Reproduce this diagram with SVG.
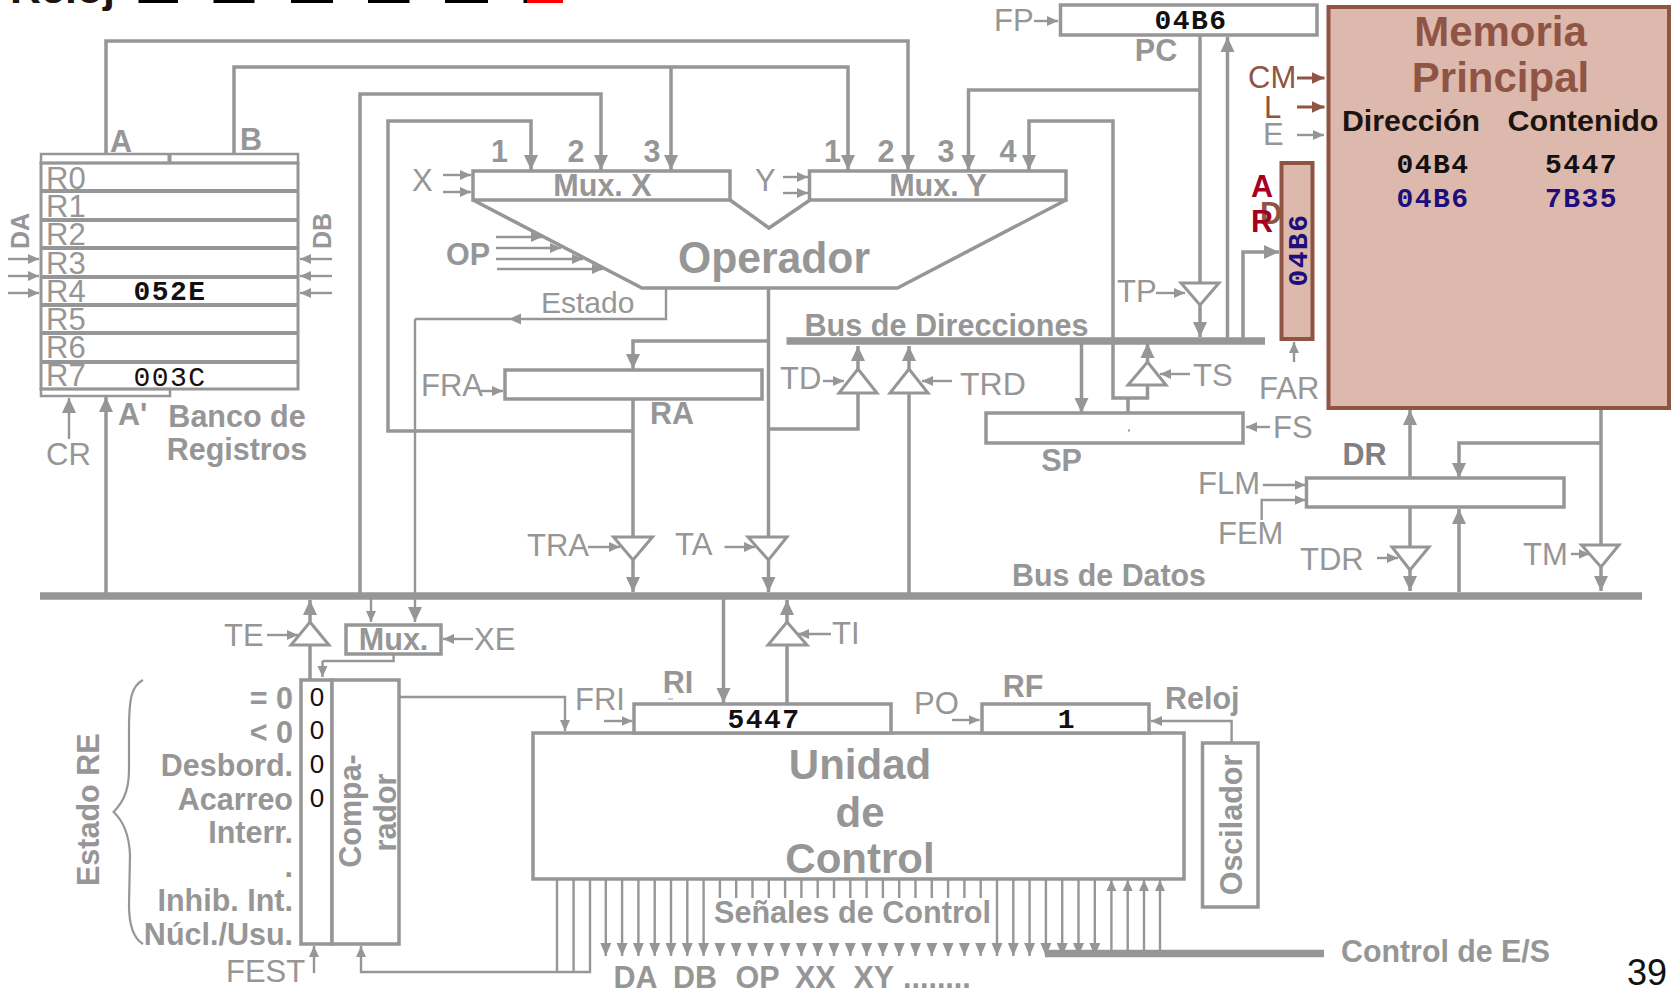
<svg xmlns="http://www.w3.org/2000/svg" width="1674" height="991" viewBox="0 0 1674 991">
<style>
text{font-family:"Liberation Sans",Arial,sans-serif;fill:#969696}
.l{font-size:31px}
.b{font-size:30.500px;font-weight:700}
.m{font-family:"Liberation Mono","Courier New",monospace;font-size:28px;font-weight:700;fill:#141010;letter-spacing:1.500px;text-anchor:middle}
.c{text-anchor:middle}
.e{text-anchor:end}
.brown{fill:#8f5444}
.dark{fill:#1c1410}
.box{fill:#fff;stroke:#969696;stroke-width:3.500}
.mem{fill:#dcb9ac;stroke:#8f5444;stroke-width:4}
.w{fill:none;stroke:#969696;stroke-width:3.500}
.t{fill:none;stroke:#969696;stroke-width:2.400}
.bus{fill:none;stroke:#969696;stroke-width:7.500}
.tri{fill:#fff;stroke:#969696;stroke-width:3}
.A{marker-end:url(#big)}
.S{marker-end:url(#sm)}
.D{marker-end:url(#ctl)}
.Br{fill:none;stroke:#8f5444;stroke-width:3;marker-end:url(#brn)}
</style>
<defs>
<marker id="big" markerUnits="userSpaceOnUse" markerWidth="16" markerHeight="16" refX="15" refY="8" orient="auto"><path d="M0 1 L15 8 L0 15 Z" fill="#969696"/></marker>
<marker id="sm" markerUnits="userSpaceOnUse" markerWidth="12" markerHeight="12" refX="11" refY="6" orient="auto"><path d="M0 1 L11 6 L0 11 Z" fill="#969696"/></marker>
<marker id="ctl" markerUnits="userSpaceOnUse" markerWidth="14" markerHeight="12" refX="13" refY="6" orient="auto"><path d="M0 .5 L13 6 L0 11.500 Z" fill="#969696"/></marker>
<marker id="brn" markerUnits="userSpaceOnUse" markerWidth="14" markerHeight="14" refX="13" refY="7" orient="auto"><path d="M0 1 L13 7 L0 13 Z" fill="#8f5444"/></marker>
</defs>

<g id="reloj-top">
<text x="10" y="3" class="dark" textLength="105" lengthAdjust="spacingAndGlyphs" style="font-size:40px;font-weight:700">Reloj</text>
<rect x="138.500" y="0" width="39.500" height="3" fill="#000"/>
<rect x="213.500" y="0" width="41" height="3" fill="#000"/>
<rect x="291" y="0" width="42" height="3" fill="#000"/>
<rect x="368" y="0" width="41.500" height="3" fill="#000"/>
<rect x="445" y="0" width="43" height="3" fill="#000"/>
<rect x="523.500" y="0" width="3.500" height="3" fill="#000"/>
<rect x="527" y="0" width="36" height="3" fill="#f00"/>
</g>

<g id="connectors">
<path class="bus" d="M40 596H1642"/>
<path class="bus" d="M786.500 341H1265"/>
<path class="bus" d="M1045 953.500H1324"/>
<path class="w A" d="M106 154V41H908V170"/>
<path class="w A" d="M234 154V67H848V170"/>
<path class="w A" d="M671 67V170"/>
<path class="w A" d="M360 596V94H601V170"/>
<path class="w A" d="M633 431H388V121H531V170"/>
<path class="w A" d="M106 596V397"/>
<path class="t A" d="M69 439V398"/>
<path class="w" d="M768.500 288V537"/>
<path class="w A" d="M768.500 341H633V369"/>
<path class="w" d="M633 399V537"/>
<path class="w A" d="M633 560V592"/>
<path class="w A" d="M768.500 560V592"/>
<path class="t" d="M666 288V319H415"/>
<path class="t A" d="M415 319V622"/>
<path d="M509 319l12-5.500v11z" fill="#969696"/>
<path class="w" d="M768.500 429H858V393"/>
<path class="w A" d="M858 369V346"/>
<path class="w" d="M909 596V393"/>
<path class="w A" d="M909 369V346"/>
<path class="w" d="M1200 35V283"/>
<path class="w A" d="M1200 90H968.500V170"/>
<path class="w A" d="M1227.500 338V37"/>
<path class="w A" d="M1200 305V337"/>
<path class="w A" d="M1113 338V121H1029V170"/>
<path class="w" d="M1113 341V398H1147.500V385"/>
<path class="w" d="M1128 398V413"/>
<path class="w A" d="M1147.500 362V343"/>
<path class="w A" d="M1081.500 341V413"/>
<path class="w A" d="M1243 338V252H1279"/>
<path class="t S" d="M1294 362V342"/>
<path class="w A" d="M1410 478V410"/>
<path class="w" d="M1601 408V545"/>
<path class="w A" d="M1601 443H1459V478"/>
<path class="w A" d="M1601 567V591"/>
<path class="w" d="M1410 507V547"/>
<path class="w A" d="M1410 570V591"/>
<path class="w A" d="M1459 592V509"/>
<path class="w" d="M310 679V645"/>
<path class="w A" d="M310 622V600"/>
<path class="t S" d="M371 599V622"/>
<path class="t" d="M393.600 654V661H322.500"/>
<path class="t S" d="M322.500 661V677"/>
<path class="t S" d="M399 697H565V731"/>
<path class="t S" d="M590 879V972H361V946"/>
<path class="t" d="M557 879V972M573.600 879V972"/>
<path class="w A" d="M723.500 596V703"/>
<path class="w" d="M787 704V645"/>
<path class="w A" d="M787 622V600"/>
<path class="t S" d="M1231.600 743V721H1151"/>
<path class="t S" d="M8 259H39"/><path class="t S" d="M8 276H39"/><path class="t S" d="M8 293H39"/>
<path class="t S" d="M332 259H300"/><path class="t S" d="M332 276H300"/><path class="t S" d="M332 293H300"/>
<path class="t S" d="M443 175H471"/><path class="t S" d="M443 192H471"/>
<path class="t S" d="M783 177H808"/><path class="t S" d="M783 193H808"/>
<path class="t S" d="M496 237H542"/><path class="t S" d="M496 248H561"/><path class="t S" d="M496 259H583"/><path class="t S" d="M497 269H603"/>
<path class="t S" d="M1034 21H1058"/>
<path class="t S" d="M1156 293H1185"/>
<path class="t S" d="M1190 374H1160"/>
<path class="t S" d="M823 381H844"/>
<path class="t S" d="M952 381H922"/>
<path class="t S" d="M481 391H503"/>
<path class="t S" d="M1270 427H1246"/>
<path class="t S" d="M1262.800 485H1305.500"/>
<path class="t S" d="M1261.700 520V500H1305.500"/>
<path class="t S" d="M1377 558H1398"/>
<path class="t S" d="M1571 554H1589.500"/>
<path class="t S" d="M588 547H620"/>
<path class="t S" d="M724.500 547H755"/>
<path class="t S" d="M267 635H298"/>
<path class="t S" d="M473 639H443"/>
<path class="t S" d="M831 634H798"/>
<path class="t S" d="M604 721H632.500"/>
<path class="t S" d="M952 720H979.500"/>
<path class="t S" d="M314 973V946"/>
<path class="Br" d="M1297 78H1324.500"/>
<path class="Br" d="M1297 107H1324.500"/>
<path class="t S" d="M1297 135H1324"/>
<g id="control-signals">
<path class="t D" d="M605.800 879V956"/><path class="t D" d="M622.100 879V956"/><path class="t D" d="M638.400 879V956"/><path class="t D" d="M654.700 879V956"/><path class="t D" d="M671 879V956"/><path class="t D" d="M687.300 879V956"/><path class="t D" d="M703.600 879V956"/>
<path class="t" d="M719.900 879V898M736.200 879V898M752.500 879V898M768.800 879V898M785.100 879V898M801.400 879V898M817.700 879V898M834 879V898M850.300 879V898M866.600 879V898M882.900 879V898M899.200 879V898M915.500 879V898M931.800 879V898M948.100 879V898M964.400 879V898M980.700 879V898"/>
<path class="t D" d="M719.900 945V956"/><path class="t D" d="M736.200 945V956"/><path class="t D" d="M752.500 945V956"/><path class="t D" d="M768.800 945V956"/><path class="t D" d="M785.100 945V956"/><path class="t D" d="M801.400 945V956"/><path class="t D" d="M817.700 945V956"/><path class="t D" d="M834 945V956"/><path class="t D" d="M850.300 945V956"/><path class="t D" d="M866.600 945V956"/><path class="t D" d="M882.900 945V956"/><path class="t D" d="M899.200 945V956"/><path class="t D" d="M915.500 945V956"/><path class="t D" d="M931.800 945V956"/><path class="t D" d="M948.100 945V956"/><path class="t D" d="M964.400 945V956"/><path class="t D" d="M980.700 945V956"/>
<path class="t D" d="M997 879V956"/><path class="t D" d="M1013.300 879V956"/><path class="t D" d="M1029.600 879V956"/><path class="t D" d="M1045.900 879V956"/><path class="t D" d="M1062.200 879V956"/><path class="t D" d="M1078.500 879V956"/><path class="t D" d="M1094.800 879V956"/>
<path class="t S" d="M1111.400 952V880"/><path class="t S" d="M1127.700 952V880"/><path class="t S" d="M1144 952V880"/><path class="t S" d="M1160 952V880"/>
</g>
<path d="M143 680C131 686 129 700 129 730L129 770C129 795 120 805 113.600 812C120 818 129 830 130 855L129 905C129 925 133 938 143 944" fill="none" stroke="#969696" stroke-width="2.200"/>
</g>

<g id="banco-registros">
<rect x="41" y="154" width="257" height="9" fill="#fff" stroke="#969696" stroke-width="2.500"/>
<path d="M169.500 154V163" stroke="#969696" stroke-width="4"/>
<rect x="41" y="389" width="129" height="7" fill="#fff" stroke="#969696" stroke-width="2.500"/>
<rect x="41" y="163" width="257" height="226" fill="none" stroke="#969696" stroke-width="3"/>
<path d="M41 191H298M41 220H298M41 248H298M41 277H298M41 305H298M41 333H298M41 362H298" stroke="#969696" stroke-width="4"/>
<text x="46" y="189" style="font-size:31px">R0</text>
<text x="46" y="217" style="font-size:31px">R1</text>
<text x="46" y="245" style="font-size:31px">R2</text>
<text x="46" y="274" style="font-size:31px">R3</text>
<text x="46" y="302" style="font-size:31px">R4</text>
<text x="46" y="330" style="font-size:31px">R5</text>
<text x="46" y="358" style="font-size:31px">R6</text>
<text x="46" y="386" style="font-size:31px">R7</text>
<text class="m" x="170" y="300">052E</text>
<text class="m" x="170" y="386" style="font-weight:400">003C</text>
<text class="b" x="110" y="152">A</text>
<text class="b" x="240" y="150">B</text>
<text class="b" transform="translate(28.700 249) rotate(-90)" style="font-size:25px">DA</text>
<text class="b" transform="translate(331 249) rotate(-90)" style="font-size:25px">DB</text>
<text class="l" x="46" y="465">CR</text>
<text class="b" x="118" y="425">A'</text>
<text class="b c" x="237" y="427">Banco de</text>
<text class="b c" x="237" y="460">Registros</text>
</g>

<g id="mux-x">
<rect class="box" x="473" y="171" width="257" height="29"/>
<text class="b c" x="602.500" y="196">Mux. X</text>
<text class="b c" x="499.500" y="162">1</text>
<text class="b c" x="576" y="162">2</text>
<text class="b c" x="652" y="162">3</text>
<text class="l" x="412" y="191">X</text>
</g>
<g id="mux-y">
<rect class="box" x="809.500" y="171" width="256.500" height="29"/>
<text class="b c" x="938" y="196">Mux. Y</text>
<text class="b c" x="832.500" y="162">1</text>
<text class="b c" x="886" y="162">2</text>
<text class="b c" x="946" y="162">3</text>
<text class="b c" x="1008" y="162">4</text>
<text class="l" x="755" y="191">Y</text>
</g>
<g id="operador">
<path d="M473 200L642 288H897.500L1066 200M730 200L769 228L810 200" fill="none" stroke="#969696" stroke-width="3.500"/>
<text x="678" y="273" textLength="192" lengthAdjust="spacingAndGlyphs" style="font-size:45px;font-weight:700">Operador</text>
<text class="b" x="446" y="265">OP</text>
<text x="541" y="313" style="font-size:30px">Estado</text>
</g>
<g id="ra">
<rect class="box" x="505" y="370" width="257" height="29"/>
<text class="b" x="650" y="424">RA</text>
<text class="l" x="421" y="396">FRA</text>
</g>
<g id="buffers">
<path class="tri" d="M613.500 537H652.500L633 560Z"/>
<path class="tri" d="M748 537H787L768.500 560Z"/>
<path class="tri" d="M858 369L877 393H839Z"/>
<path class="tri" d="M909 369L928 393H890Z"/>
<path class="tri" d="M1181 283H1219L1200 305Z"/>
<path class="tri" d="M1147.500 362L1166 385H1128Z"/>
<path class="tri" d="M1392 547H1429L1410 570Z"/>
<path class="tri" d="M1581.500 545H1619L1601 567Z"/>
<path class="tri" d="M310 622L329 645H291Z"/>
<path class="tri" d="M787 622L807 645H768Z"/>
<text class="l" x="527" y="556">TRA</text>
<text class="l" x="675" y="555">TA</text>
<text class="l" x="780" y="389">TD</text>
<text class="l" x="960" y="395" style="font-size:32px">TRD</text>
<text class="l" x="1117" y="302">TP</text>
<text class="l" x="1193" y="386">TS</text>
<text class="l" x="1300" y="570">TDR</text>
<text class="l" x="1523" y="565">TM</text>
<text class="l" x="224" y="646">TE</text>
<text class="l" x="832" y="644">TI</text>
</g>
<g id="buses-labels">
<text class="b" x="804.500" y="336" textLength="284" lengthAdjust="spacingAndGlyphs">Bus de Direcciones</text>
<text class="b" x="1012" y="586" textLength="194" lengthAdjust="spacingAndGlyphs">Bus de Datos</text>
</g>
<g id="pc">
<rect class="box" x="1060.500" y="5" width="256.500" height="30"/>
<text class="m" x="1191" y="29">04B6</text>
<text class="l" x="994" y="31">FP</text>
<text class="b c" x="1156" y="61">PC</text>
</g>
<g id="sp">
<rect class="box" x="986" y="413" width="257" height="30"/>
<rect x="1128" y="429.500" width="2" height="2" fill="#969696"/>
<text class="l" x="1273" y="438">FS</text>
<text class="b c" x="1061.500" y="471">SP</text>
</g>
<g id="memoria">
<rect class="mem" x="1328.500" y="7" width="340.500" height="401"/>
<text class="brown c" x="1500.500" y="46" style="font-size:42px;font-weight:700">Memoria</text>
<text class="brown c" x="1500.500" y="92" style="font-size:42px;font-weight:700">Principal</text>
<text class="dark" x="1342" y="131" textLength="138" lengthAdjust="spacingAndGlyphs" style="font-size:30px;font-weight:700">Dirección</text>
<text class="dark" x="1507.500" y="131" textLength="151" lengthAdjust="spacingAndGlyphs" style="font-size:30px;font-weight:700">Contenido</text>
<text class="m" x="1433" y="173">04B4</text>
<text class="m" x="1581.500" y="173">5447</text>
<text class="m" x="1433" y="207" style="fill:#1d0e7a">04B6</text>
<text class="m" x="1581.500" y="207" style="fill:#1d0e7a">7B35</text>
<text class="brown" x="1248" y="88" style="font-size:31px">CM</text>
<text class="brown" x="1264" y="118" style="font-size:31px">L</text>
<text class="l" x="1263" y="145">E</text>
</g>
<g id="ar">
<rect class="mem" x="1281.500" y="163" width="31" height="176"/>
<text class="m" transform="translate(1306.500 250) rotate(-90)" style="fill:#1d0e7a">04B6</text>
<text class="b" x="1251" y="197" style="fill:#a50021">A</text>
<text class="b" x="1260" y="224" style="fill:#8f5444">D</text>
<text class="b" x="1251" y="232" style="fill:#a50021">R</text>
<text class="l" x="1259" y="399">FAR</text>
</g>
<g id="dr">
<rect class="box" x="1306.500" y="478" width="257.500" height="29"/>
<text class="b c" x="1364.500" y="465" style="fill:#808080">DR</text>
<text class="l" x="1198" y="494">FLM</text>
<text class="l" x="1218" y="544">FEM</text>
</g>
<g id="mux-e">
<rect class="box" x="346" y="625" width="95" height="29"/>
<text class="b c" x="393.600" y="650">Mux.</text>
<text class="l" x="474" y="650">XE</text>
</g>
<g id="estado-re">
<rect class="box" x="301" y="680" width="31" height="264"/>
<text x="317" y="706" class="c" style="font-size:26px;fill:#141010">0</text>
<text x="317" y="739" class="c" style="font-size:26px;fill:#141010">0</text>
<text x="317" y="773" class="c" style="font-size:26px;fill:#141010">0</text>
<text x="317" y="807" class="c" style="font-size:26px;fill:#141010">0</text>
<text class="b e" x="293" y="709">= 0</text>
<text class="b e" x="293" y="743">&lt; 0</text>
<text class="b e" x="293" y="776">Desbord.</text>
<text class="b e" x="293" y="810">Acarreo</text>
<text class="b e" x="293" y="843">Interr.</text>
<text class="b e" x="293" y="877">.</text>
<text class="b e" x="293" y="911">Inhib. Int.</text>
<text class="b e" x="293" y="945">Núcl./Usu.</text>
<text class="b" transform="translate(99 886) rotate(-90)">Estado RE</text>
<text class="l" x="226" y="982">FEST</text>
</g>
<g id="comparador">
<rect class="box" x="332" y="680" width="67" height="264"/>
<text class="b c" transform="translate(361 811) rotate(-90)">Compa-</text>
<text class="b c" transform="translate(395.700 812.500) rotate(-90)">rador</text>
</g>
<g id="unidad-control">
<rect class="box" x="533" y="733" width="651" height="146"/>
<text class="c" x="860" y="779" style="font-size:42px;font-weight:700">Unidad</text>
<text class="c" x="860" y="827" style="font-size:42px;font-weight:700">de</text>
<text class="c" x="860" y="873" style="font-size:42px;font-weight:700">Control</text>
<text class="b" x="714" y="923" textLength="277" lengthAdjust="spacingAndGlyphs">Señales de Control</text>
<text class="b" x="613.500" y="988">DA</text>
<text class="b" x="673" y="988">DB</text>
<text class="b" x="735.500" y="988">OP</text>
<text class="b" x="795" y="988">XX</text>
<text class="b" x="853.500" y="988">XY</text>
<text class="b" x="903" y="988">........</text>
<text class="b" x="1341" y="962" textLength="209" lengthAdjust="spacingAndGlyphs">Control de E/S</text>
</g>
<g id="ri">
<rect class="box" x="634" y="704" width="257" height="29"/>
<text class="m" x="764" y="728">5447</text>
<text class="b c" x="678" y="693">RI</text>
<rect x="668" y="698.500" width="5" height="1" fill="#969696"/>
<text class="l" x="575" y="710">FRI</text>
</g>
<g id="rf">
<rect class="box" x="982" y="704" width="167" height="29"/>
<text class="m" x="1067" y="728">1</text>
<text class="b c" x="1023" y="697">RF</text>
<text class="l" x="914" y="714">PO</text>
<text class="b" x="1165" y="709">Reloj</text>
</g>
<g id="oscilador">
<rect class="box" x="1202.500" y="743" width="55.500" height="164"/>
<text class="b c" transform="translate(1242 825) rotate(-90)">Oscilador</text>
</g>
<text id="page-number" x="1627" y="985" style="font-size:36px;fill:#111">39</text>
</svg>
